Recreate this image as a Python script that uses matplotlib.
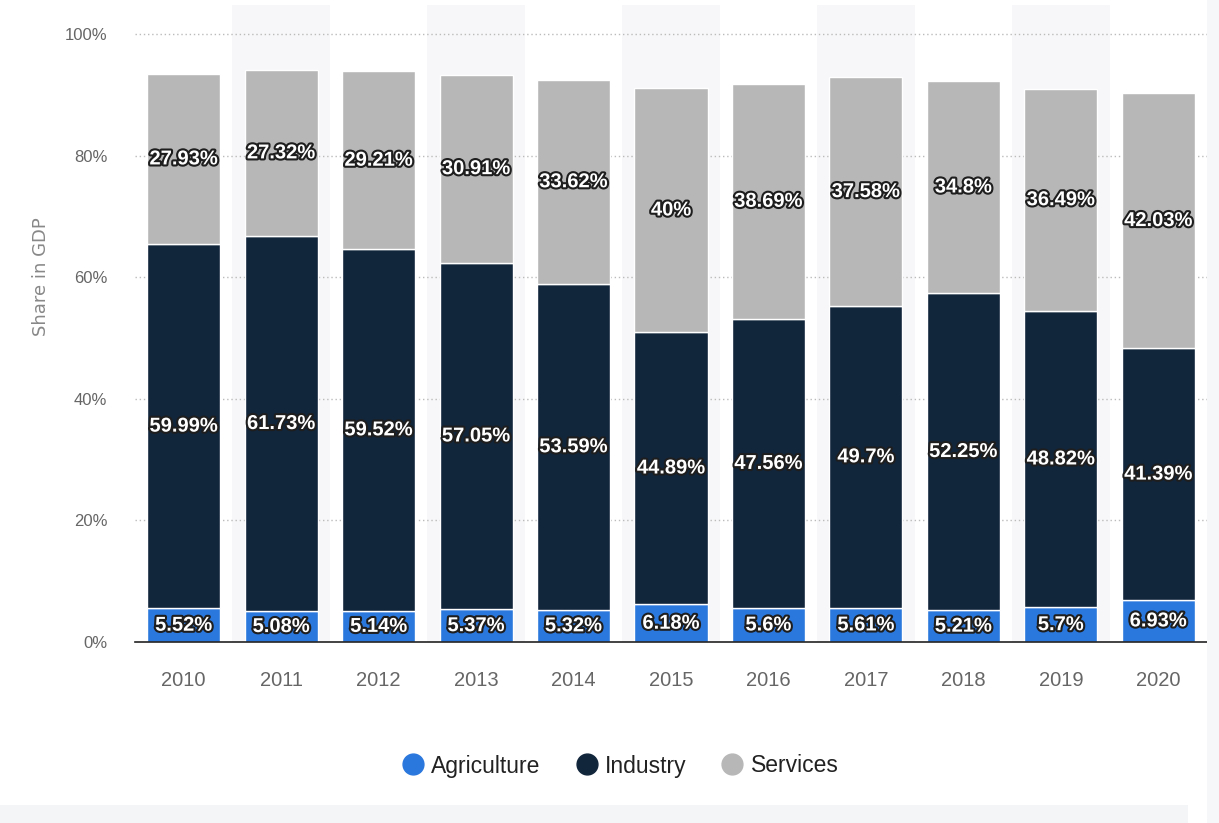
import matplotlib
matplotlib.use("Agg")
import matplotlib.pyplot as plt
import matplotlib.patheffects as pe
from matplotlib.lines import Line2D
from matplotlib.patches import Rectangle
import numpy as np

years = ["2010", "2011", "2012", "2013", "2014", "2015", "2016", "2017", "2018", "2019", "2020"]
agriculture = [5.52, 5.08, 5.14, 5.37, 5.32, 6.18, 5.6, 5.61, 5.21, 5.7, 6.93]
industry = [59.99, 61.73, 59.52, 57.05, 53.59, 44.89, 47.56, 49.7, 52.25, 48.82, 41.39]
services = [27.93, 27.32, 29.21, 30.91, 33.62, 40, 38.69, 37.58, 34.8, 36.49, 42.03]
series_names = ["Agriculture", "Industry", "Services"]
yticks = [0, 20, 40, 60, 80, 100]
ytick_labels = ["0%", "20%", "40%", "60%", "80%", "100%"]

colors = ["#2a77dd", "#11253b", "#b7b7b7"]
narrow = ["Liberation Sans", "DejaVu Sans"]

fig = plt.figure(figsize=(12.19, 8.23), dpi=100)
fig.patch.set_facecolor("white")
# faint page strips
fig.patches.append(Rectangle((0, 0), 1188 / 1219, 18 / 823, transform=fig.transFigure,
                             facecolor="#f4f5f7", edgecolor="none", zorder=0))
fig.patches.append(Rectangle((1207 / 1219, 0), 12 / 1219, 1, transform=fig.transFigure,
                             facecolor="#f6f7f9", edgecolor="none", zorder=0))

ax = fig.add_axes([135 / 1219, 181 / 823, 1072 / 1219, 637 / 823])
ax.set_facecolor("white")
x = np.arange(len(years))

# alternating bands
for i in x:
    if i % 2 == 1:
        ax.axvspan(i - 0.5, i + 0.5, ymin=0, ymax=1, facecolor="#f7f7f9", edgecolor="none", zorder=0)

# grid lines
for t in yticks[1:]:
    ax.axhline(t, color="#bbbbbb", linestyle=(0, (1, 2)), linewidth=1, zorder=1)

width = 0.75
bottom = np.zeros(len(years))
stroke = [pe.withStroke(linewidth=3.0, foreground="#1e1e1e")]
for vals, col in zip([agriculture, industry, services], colors):
    vals = np.array(vals)
    ax.bar(x, vals, width, bottom=bottom, color=col, edgecolor="white", linewidth=1, zorder=2)
    for xi, b, v in zip(x, bottom, vals):
        label = ("%g" % v) + "%"
        ax.text(xi, b + v / 2, label, ha="center", va="center", color="white",
                fontsize=14.5, fontweight="bold", family=narrow, path_effects=stroke, zorder=4)
    bottom = bottom + vals

ax.set_xlim(-0.5, 10.5)
ax.set_ylim(0, 104.8)
ax.set_xticks(x)
ax.set_xticklabels(years, family=narrow, fontsize=14.5, color="#666666")
ax.set_yticks(yticks)
ax.set_yticklabels(ytick_labels, family=narrow, fontsize=12, color="#666666")
ax.tick_params(axis="both", length=0)
ax.tick_params(axis="x", pad=21)
ax.tick_params(axis="y", pad=20)
for s in ["top", "right", "left"]:
    ax.spines[s].set_visible(False)
ax.spines["bottom"].set_color("#222222")
ax.spines["bottom"].set_linewidth(1.2)
ax.spines["bottom"].set_zorder(5)

fig.text(41 / 1219, 1 - 277 / 823, "Share in GDP", rotation=90, ha="center", va="center",
         fontsize=13, color="#888888")

handles = [Line2D([0], [0], marker="o", linestyle="none", markersize=15,
                  markerfacecolor=c, markeredgecolor=c) for c in colors]
leg = fig.legend(handles, series_names, loc="center", bbox_to_anchor=(620 / 1219, 1 - 766 / 823),
                 ncol=3, frameon=False, prop={"family": narrow, "size": 16.5},
                 handletextpad=0.3, columnspacing=1.5, handlelength=1.0)
for t in leg.get_texts():
    t.set_color("#222222")

fig.savefig("out.png", dpi=100)
